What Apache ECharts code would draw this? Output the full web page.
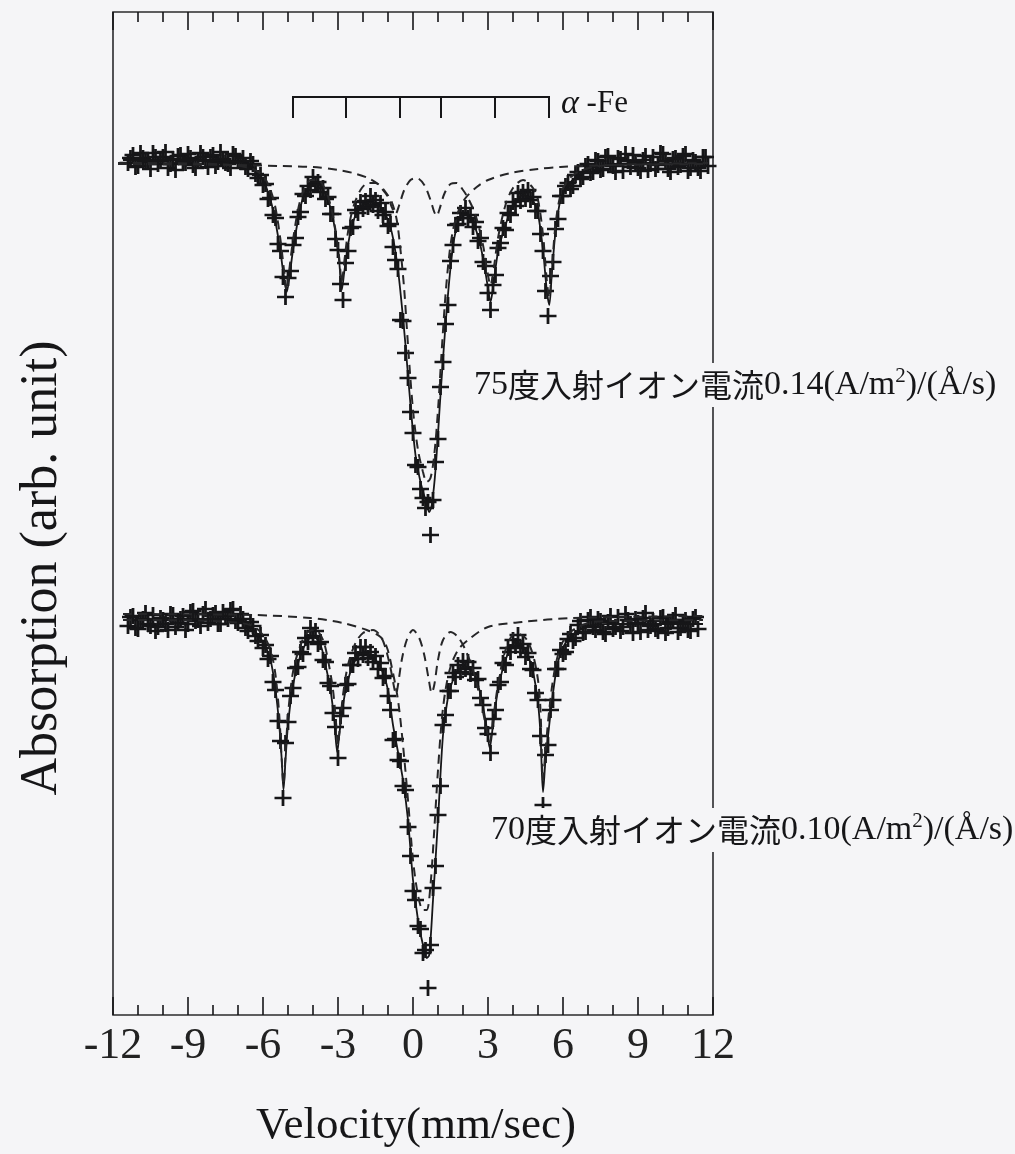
<!DOCTYPE html>
<html>
<head>
<meta charset="utf-8">
<script src="https://cdn.jsdelivr.net/npm/echarts@6/dist/echarts.min.js"></script>
<style>
html,body{margin:0;padding:0;background:#f5f5f7;}
#chart{width:1015px;height:1154px;}
</style>
</head>
<body>
<div id="chart"></div>
<script>
// ---------------- DATA (velocity in mm/s, absorption in arb. unit) ----------------
const xTicks = [-12, -9, -6, -3, 0, 3, 6, 9, 12];

const topVel = [-11.4,-11.3,-11.2,-11.1,-11,-10.9,-10.8,-10.7,-10.6,-10.5,-10.4,-10.3,-10.2,-10.1,-10,-9.9,-9.8,-9.7,-9.6,-9.5,-9.4,-9.3,-9.2,-9.1,-9,-8.9,-8.8,-8.7,-8.6,-8.5,-8.4,-8.3,-8.2,-8.1,-8,-7.9,-7.8,-7.7,-7.6,-7.5,-7.4,-7.3,-7.2,-7.1,-7,-6.9,-6.8,-6.7,-6.6,-6.5,-6.4,-6.3,-6.2,
-6.1,-6,-5.9,-5.8,-5.7,-5.6,-5.5,-5.4,-5.3,-5.2,-5.1,-5,-4.9,-4.8,-4.7,-4.6,-4.5,-4.4,-4.3,-4.2,-4.1,-4,-3.9,-3.8,-3.7,-3.6,-3.5,-3.4,-3.3,-3.2,-3.1,-3,-2.9,-2.8,-2.7,-2.6,-2.5,-2.4,-2.3,-2.2,-2.1,-2,-1.9,-1.8,-1.7,-1.6,-1.5,-1.4,-1.3,-1.2,-1.1,-1,-0.9,-0.8,-0.7,-0.6,-0.5,-0.4,-0.3,-0.2,-0.1,
0,0.1,0.2,0.3,0.4,0.5,0.6,0.7,0.8,0.9,1,1.1,1.2,1.3,1.4,1.5,1.6,1.7,1.8,1.9,2,2.1,2.2,2.3,2.4,2.5,2.6,2.7,2.8,2.9,3,3.1,3.2,3.3,3.4,3.5,3.6,3.7,3.8,3.9,4,4.1,4.2,4.3,4.4,4.5,4.6,4.7,4.8,4.9,5,5.1,5.2,5.3,5.4,5.5,5.6,5.7,5.8,5.9,6,
6.1,6.2,6.3,6.4,6.5,6.6,6.7,6.8,6.9,7,7.1,7.2,7.3,7.4,7.5,7.6,7.7,7.8,7.9,8,8.1,8.2,8.3,8.4,8.5,8.6,8.7,8.8,8.9,9,9.1,9.2,9.3,9.4,9.5,9.6,9.7,9.8,9.9,10,10.1,10.2,10.3,10.4,10.5,10.6,10.7,10.8,10.9,11,11.1,11.2,11.3,11.4,11.5,11.6,11.7,11.8];

const topAbs = [85.2,85.7,86.0,84.8,84.9,86.2,85.7,85.3,85.4,84.6,86.2,85.8,85.1,85.4,85.8,86.3,84.7,85.1,85.6,84.5,85.9,86.0,85.3,85.2,86.1,85.7,85.0,84.7,85.5,86.2,85.8,85.4,84.8,85.8,86.0,84.9,85.3,86.3,85.6,85.2,85.1,84.7,86.1,85.9,85.4,85.3,85.7,84.8,84.6,85.4,85.1,84.1,83.7,
84.0,83.0,83.1,81.6,81.7,80.0,79.7,77.1,76.4,73.8,71.8,73.7,74.4,77.0,77.7,79.8,80.3,82.1,81.9,82.9,82.5,83.8,83.1,83.3,82.3,82.7,81.6,81.8,80.1,80.1,77.6,76.5,73.1,71.5,75.2,76.4,78.7,78.8,80.5,80.2,81.3,80.6,81.4,80.8,81.9,81.0,81.5,80.4,81.2,80.0,80.3,78.9,79.1,76.8,75.5,74.6,69.5,69.4,66.2,63.7,60.3,
58.2,55.0,54.8,52.6,51.7,50.7,51.3,48.0,51.5,55.3,57.6,62.8,65.3,69.1,71.0,75.4,77.0,79.0,79.1,80.2,79.7,80.7,79.7,80.0,78.8,79.3,77.4,77.7,75.3,74.9,72.2,70.5,73.0,74.0,76.7,77.2,78.7,78.5,80.2,80.0,81.3,80.9,82.2,81.4,82.3,81.6,82.5,81.5,81.8,80.4,80.4,78.1,76.4,72.4,69.9,73.9,75.3,78.6,79.6,81.9,81.9,
82.9,83.2,82.6,82.9,84.0,84.3,83.6,83.8,84.9,85.1,84.2,84.3,85.5,85.4,84.5,84.6,85.8,85.9,85.0,84.9,84.3,85.7,85.6,84.4,86.1,85.4,84.8,86.0,85.3,84.7,84.4,85.5,85.9,84.5,85.1,85.8,84.6,85.0,86.2,86.1,85.4,84.6,84.3,85.6,85.7,84.8,85.0,85.9,86.1,84.4,84.7,85.5,85.3,84.7,84.4,85.8,85.8,84.9];

const botVel = topVel.filter(v => v <= 11.4);

const botAbs = [38.9,39.8,39.9,38.7,38.6,39.5,39.6,40.2,39.1,38.9,40.0,38.4,38.8,39.7,39.5,39.1,38.5,40.1,40.0,38.8,39.2,39.6,39.9,38.5,39.1,40.3,40.4,39.4,39.5,38.9,40.1,40.6,39.2,39.6,40.0,40.2,39.1,39.1,40.3,39.9,39.6,40.5,40.6,39.4,39.2,40.1,39.6,38.7,38.4,39.3,38.9,37.9,37.4,
38.0,36.7,37.0,35.6,35.9,33.3,32.5,29.4,27.4,21.7,27.2,29.3,31.9,32.7,34.7,34.8,36.3,36.1,37.7,37.3,38.7,37.9,38.4,37.1,37.3,35.5,35.3,33.2,32.9,30.2,28.8,25.7,29.9,30.7,33.0,33.1,35.0,35.0,36.2,35.6,36.8,36.0,36.8,35.7,36.3,35.3,35.9,34.6,35.2,33.7,33.9,31.9,30.5,27.5,27.6,25.5,25.4,22.9,22.5,18.8,15.9,
12.4,11.5,8.9,8.6,6.2,6.5,2.7,7.0,12.7,14.9,20.0,22.9,29.0,30.0,32.4,32.4,34.2,33.8,35.0,34.3,35.4,34.6,35.3,34.1,34.7,33.5,33.6,31.7,31.0,28.7,28.1,26.2,29.6,30.5,33.0,33.3,35.2,35.0,36.7,36.3,37.5,36.9,38.0,36.7,37.1,35.8,36.2,34.6,34.5,32.2,31.5,27.9,21.0,26.0,27.0,30.5,31.5,34.6,34.6,36.5,36.1,
36.3,37.6,38.1,37.4,37.7,39.0,39.4,38.2,38.3,39.5,39.8,38.8,38.5,39.6,39.4,38.3,38.1,39.3,39.9,38.6,38.8,39.8,38.4,38.8,40.1,39.5,39.1,38.2,39.6,39.2,38.3,39.7,40.2,38.5,38.9,39.4,38.6,38.4,39.7,39.8,38.2,38.7,39.3,39.5,40.0,38.3,38.7,39.3,39.5,38.5,38.4,39.6,39.8,38.6];

// fitted total (solid)
const fitTopVel = [-11.6,-8,-7,-6.5,-6,-5.7,-5.5,-5.3,-5.15,-5.05,-4.95,-4.8,-4.6,-4.4,-4.1,-3.8,-3.5,-3.3,-3.1,-2.95,-2.85,-2.75,-2.6,-2.4,-2.1,-1.7,-1.3,-1,-0.8,-0.6,-0.45,-0.3,-0.1,0.1,0.3,0.5,0.65,0.75,0.9,1.1,1.3,1.5,1.7,2,2.3,2.6,2.8,3,3.1,3.2,3.4,3.7,4,4.4,4.8,5,5.2,5.35,5.45,5.55,5.7,5.9,6.2,6.6,7.2,8,11.8];
const fitTopAbs = [85.5,85.5,85.3,84.9,83.5,81.5,79.3,76.3,73.5,72.3,73.7,76.5,79.5,81.7,82.9,83.1,82.1,80.7,78.3,75.3,72.5,74.3,77.0,79.3,80.8,81.3,80.8,79.5,77.7,74.5,71.0,67.0,61.0,56.0,53.3,51.5,50.3,51.0,54.5,62.0,69.0,74.7,78.3,80.1,79.7,77.9,75.7,72.7,71.3,72.7,76.3,79.0,80.9,82.0,81.4,80.1,76.5,72.5,71.0,74.0,78.3,81.5,83.0,83.9,84.7,85.1,85.2];

const fitBotVel = [-11.6,-8,-7,-6.5,-6,-5.7,-5.5,-5.35,-5.25,-5.18,-5.1,-5,-4.8,-4.5,-4.2,-4,-3.7,-3.5,-3.3,-3.15,-3.03,-2.95,-2.8,-2.6,-2.3,-2,-1.7,-1.4,-1.2,-1,-0.8,-0.6,-0.4,-0.2,0,0.2,0.4,0.55,0.65,0.8,1,1.2,1.4,1.6,1.9,2.2,2.5,2.75,2.95,3.07,3.2,3.4,3.7,4.1,4.5,4.8,5,5.1,5.2,5.3,5.45,5.6,5.8,6.1,6.6,7.2,8,11.6];
const fitBotAbs = [39.5,39.6,39.5,38.8,37.3,35.5,32.5,29.0,25.5,22.5,25.5,29.0,33.0,36.0,37.5,37.9,37.0,35.0,32.5,29.5,26.3,28.0,31.0,33.5,35.5,36.2,36.0,35.2,34.2,32.5,29.0,26.3,23.5,19.5,13.5,9.5,7.0,5.7,6.0,11.5,19.5,28.0,31.8,33.5,34.7,34.8,33.8,31.5,28.7,26.7,29.0,32.5,35.5,37.3,36.5,34.3,31.2,28.0,22.3,25.5,29.0,32.2,35.3,37.2,38.4,39.0,39.1,39.1];

// magnetic sextet component (dashed)
const sextTopVel = [-11.8,-8,-6.5,-6,-5.7,-5.5,-5.3,-5.15,-5.05,-4.95,-4.8,-4.6,-4.4,-4.1,-3.8,-3.5,-3.3,-3.1,-2.95,-2.85,-2.75,-2.6,-2.4,-2.1,-1.8,-1.5,-1.2,-1,-0.85,-0.7,-0.55,-0.35,-0.1,0.15,0.45,0.7,0.85,0.95,1.05,1.25,1.5,1.75,2,2.2,2.5,2.8,2.95,3.1,3.25,3.4,3.7,4,4.4,4.8,5,5.2,5.35,5.45,5.55,5.7,5.9,6.2,6.6,7.2,8,11.8];
const sextTopAbs = [85.2,85.1,84.7,83.9,82.5,80.7,77.5,74.3,72.5,74.5,77.5,80.5,82.3,83.5,83.5,82.5,81.0,78.5,75.7,73.3,75.3,78.3,80.7,82.5,83.2,83.2,82.5,81.8,80.8,80.1,81.0,82.5,83.5,83.7,83.0,81.5,80.3,79.9,80.5,82.1,83.1,83.2,82.5,81.7,80.0,77.0,74.7,73.0,75.0,77.7,81.0,82.7,83.5,82.7,81.5,78.0,73.5,71.7,74.5,79.0,82.0,83.5,84.3,84.8,85.0,85.2];

const sextBotVel = [-11.6,-8,-6.5,-6,-5.7,-5.5,-5.35,-5.25,-5.18,-5.1,-5,-4.8,-4.5,-4.2,-3.9,-3.6,-3.4,-3.2,-3.07,-3,-2.93,-2.8,-2.6,-2.3,-2,-1.6,-1.3,-1.1,-0.9,-0.75,-0.68,-0.6,-0.45,-0.25,0,0.25,0.45,0.62,0.75,0.85,1,1.2,1.5,1.8,2.1,2.4,2.7,2.95,3.07,3.2,3.4,3.7,4.1,4.5,4.8,5,5.1,5.2,5.3,5.45,5.6,5.8,6.1,6.6,7.2,8,11.6];
const sextBotAbs = [39.5,39.4,39.0,38.0,36.5,34.0,30.0,25.5,23.0,26.0,30.0,34.3,37.0,38.3,38.5,37.5,35.5,32.5,29.0,27.0,28.7,32.0,35.0,37.2,38.2,38.5,37.9,36.7,34.7,32.7,32.1,33.0,35.5,37.5,38.5,37.7,36.0,33.7,32.2,33.0,35.5,37.5,38.3,37.8,36.5,34.5,31.5,28.5,27.3,29.5,33.0,36.5,38.2,37.7,36.0,33.5,30.5,23.5,26.5,30.5,33.5,36.0,37.8,38.8,39.3,39.4,39.5];

// paramagnetic central component (dashed)
const centTopVel = [-11.8,-7,-5.4,-4,-3,-2.4,-1.8,-1.4,-1.1,-0.85,-0.65,-0.5,-0.35,-0.2,0,0.2,0.4,0.55,0.7,0.85,1,1.15,1.3,1.45,1.6,1.8,2.1,2.55,3,3.9,5,5.9,8,11.8];
const centTopAbs = [85.1,85.0,84.9,84.8,84.5,84.2,83.7,83.1,82.3,81.3,79.5,76.5,72.5,67.0,60.5,56.5,54.3,53.3,53.7,56.0,60.5,66.5,72.0,76.0,78.5,80.3,81.7,82.8,83.5,84.2,84.6,84.8,85.0,85.1];

const centBotVel = [-11.6,-6.4,-4.1,-2.8,-1.85,-1.3,-1.05,-0.85,-0.6,-0.4,-0.2,0,0.2,0.4,0.55,0.7,0.85,1,1.15,1.3,1.5,1.8,2.2,3,4.36,6.4,11.6];
const centBotAbs = [40.1,40.0,39.7,39.2,38.5,37.8,36.8,34.8,31.5,27.0,21.5,15.5,12.0,10.5,10.5,13.0,18.5,24.5,29.5,32.5,34.8,36.5,37.5,38.8,39.3,39.7,39.9];

// alpha-Fe reference line positions
const alphaFeVel = [-4.8, -2.68, -0.52, 1.12, 3.28, 5.44];

// labels
const topLabel = ['75', '度入射イオン電流', '0.14(A/m', '2', ')/(Å/s)'];
const botLabel = ['70', '度入射イオン電流', '0.10(A/m', '2', ')/(Å/s)'];

// ---------------- CHART ----------------
const BG = '#f5f5f7';
const INK = '#161618';
const SERIF = '"Liberation Serif", "DejaVu Serif", serif';
const CJK = '"Noto Sans CJK JP", sans-serif';
const BRACKET_Y = 91.8, BRACKET_TICK_Y = 89.7;

const pairs = (xs, ys) => xs.slice(0, Math.min(xs.length, ys.length)).map((x, i) => [x, ys[i]]);
const cross = 'path://M0,6.7H16V9.3H0Z M6.7,0H9.3V16H6.7Z';

function scatter(xs, ys) {
  return { type: 'scatter', data: pairs(xs, ys), symbol: cross, symbolSize: [17, 16],
    itemStyle: { color: INK, opacity: 1 }, silent: true, z: 2 };
}
function solid(xs, ys) {
  return { type: 'line', data: pairs(xs, ys), smooth: 0.3, showSymbol: false, symbol: 'none',
    lineStyle: { color: INK, width: 1.8 }, silent: true, z: 3 };
}
function dashed(xs, ys) {
  return { type: 'line', data: pairs(xs, ys), smooth: 0.3, showSymbol: false, symbol: 'none',
    lineStyle: { color: '#262628', width: 2, type: [9, 6] }, silent: true, z: 4 };
}
function richLabel(parts) {
  return '{n|' + parts[0] + '}{j|' + parts[1] + '}{n|' + parts[2] + '}{s|' + parts[3] + '}{n|' + parts[4] + '}';
}
const labelRich = {
  n: { fontFamily: SERIF, fontSize: 34, fill: INK },
  j: { fontFamily: CJK, fontSize: 32, fill: INK },
  s: { fontFamily: SERIF, fontSize: 21, fill: INK, padding: [0, 0, 17, 0] }
};

const chart = echarts.init(document.getElementById('chart'), null, { renderer: 'canvas' });
const axisCommon = {
  type: 'value', min: xTicks[0], max: xTicks[xTicks.length - 1], interval: 3,
  axisLine: { show: false },
  axisTick: { show: true, inside: true, length: 18, lineStyle: { color: INK, width: 1.6 } },
  minorTick: { show: true, splitNumber: 3, length: 10, lineStyle: { color: INK, width: 1.6 } },
  splitLine: { show: false }, minorSplitLine: { show: false }
};
chart.setOption({
  backgroundColor: BG,
  animation: false,
  grid: { left: 113, right: 302, top: 12, bottom: 139, show: true, borderColor: '#2b2b2d', borderWidth: 1.6, backgroundColor: 'transparent' },
  xAxis: [
    Object.assign({}, axisCommon, { position: 'bottom',
      axisLabel: { show: true, fontFamily: SERIF, fontSize: 44, color: '#222', margin: 9 } }),
    Object.assign({}, axisCommon, { position: 'top', axisLabel: { show: false } })
  ],
  yAxis: { type: 'value', min: 0, max: 100.3, show: false },
  series: [
    scatter(topVel, topAbs),
    scatter(botVel, botAbs),
    solid(fitTopVel, fitTopAbs),
    solid(fitBotVel, fitBotAbs),
    dashed(sextTopVel, sextTopAbs),
    dashed(centTopVel, centTopAbs),
    dashed(sextBotVel, sextBotAbs),
    dashed(centBotVel, centBotAbs),
    {
      type: 'custom', silent: true, z: 5,
      data: alphaFeVel.map(v => [v, BRACKET_Y]),
      encode: { x: 0, y: 1 },
      renderItem: function (params, api) {
        const x = api.value(0);
        const p1 = api.coord([x, BRACKET_Y]);
        const p2 = api.coord([x, BRACKET_TICK_Y]);
        const children = [{ type: 'line', shape: { x1: p1[0], y1: p1[1], x2: p2[0], y2: p2[1] },
          style: { stroke: INK, lineWidth: 2 } }];
        if (params.dataIndex === 0) {
          const a = api.coord([alphaFeVel[0], BRACKET_Y]);
          const b = api.coord([alphaFeVel[alphaFeVel.length - 1], BRACKET_Y]);
          children.push({ type: 'line', shape: { x1: a[0] - 1, y1: a[1], x2: b[0] + 1, y2: b[1] },
            style: { stroke: INK, lineWidth: 2 } });
        }
        return { type: 'group', children: children };
      }
    }
  ],
  graphic: [
    { type: 'text', x: 561, y: 104, z: 50,
      style: { text: '{a|α}{n| -Fe}', verticalAlign: 'middle',
        rich: { a: { fontFamily: SERIF, fontStyle: 'italic', fontSize: 34, fill: INK },
                n: { fontFamily: SERIF, fontSize: 31, fill: INK } } } },
    { type: 'text', x: 472, y: 385, z: 50,
      style: { text: richLabel(topLabel), verticalAlign: 'middle', rich: labelRich,
        backgroundColor: BG, padding: [3, 2] } },
    { type: 'text', x: 489, y: 830, z: 50,
      style: { text: richLabel(botLabel), verticalAlign: 'middle', rich: labelRich,
        backgroundColor: BG, padding: [3, 2] } },
    { type: 'text', x: 416, y: 1126, z: 50,
      style: { text: 'Velocity(mm/sec)', font: '45px ' + SERIF, fill: INK, align: 'center', verticalAlign: 'middle' } },
    { type: 'text', x: 42, y: 568, rotation: Math.PI / 2, z: 50,
      style: { text: 'Absorption (arb. unit)', font: '52px ' + SERIF, fill: INK, align: 'center', verticalAlign: 'middle' } }
  ]
});
</script>
</body>
</html>
